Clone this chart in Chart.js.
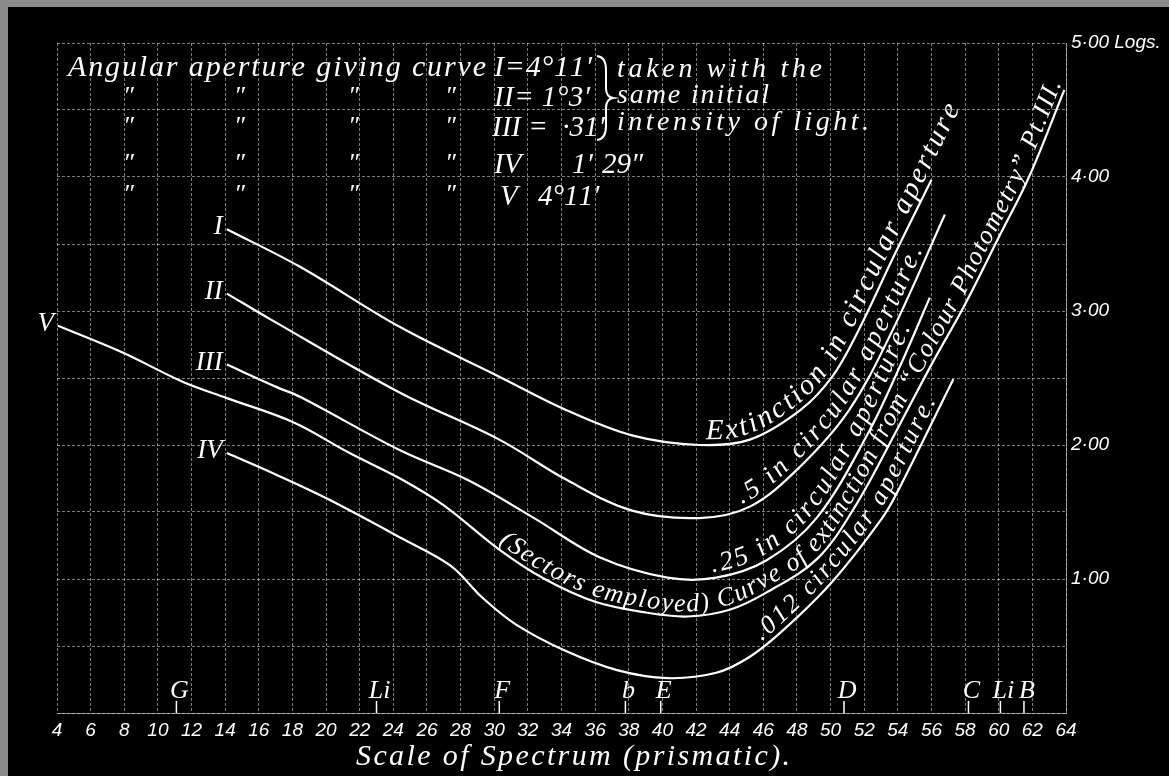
<!DOCTYPE html>
<html>
<head>
<meta charset="utf-8">
<script src="https://cdn.jsdelivr.net/npm/chart.js@4.4.1/dist/chart.umd.min.js"></script>
<style>
  html, body { margin: 0; padding: 0; background: #000; }
  canvas { display: block; }
</style>
</head>
<body>
<canvas id="chart" width="1169" height="776"></canvas>
<script>
// 1. DATOS (leídos de la lámina)
// eje X: escala del espectro (prismática), eje Y: logaritmos
const spectrumTicks = [4, 6, 8, 10, 12, 14, 16, 18, 20, 22, 24, 26, 28, 30, 32, 34,
  36, 38, 40, 42, 44, 46, 48, 50, 52, 54, 56, 58, 60, 62, 64];
const logTicks = [0, 0.5, 1, 1.5, 2, 2.5, 3, 3.5, 4, 4.5, 5];

// curva I
const curveIx = [14.1, 18.45, 24.4, 30.3, 34.3, 38.25, 42.2, 45.2, 48.2, 50.1, 51.6, 53.8, 56.0];
const curveIy = [3.61, 3.33, 2.88, 2.51, 2.26, 2.07, 2.00, 2.04, 2.26, 2.51, 2.84, 3.42, 3.98];
// curva II
const curveIIx = [14.1, 16.8, 24.4, 30.3, 34.3, 38.2, 42.2, 45.2, 48.2, 51.1, 53.7, 56.8];
const curveIIy = [3.13, 2.93, 2.39, 2.04, 1.74, 1.51, 1.455, 1.54, 1.84, 2.26, 2.86, 3.72];
// curva III
const curveIIIx = [14.1, 17.1, 18.45, 24.4, 28.4, 32.3, 36.3, 40.3, 43.2, 46.2, 49.2, 52.2, 54.1, 55.9];
const curveIIIy = [2.60, 2.43, 2.36, 1.96, 1.74, 1.46, 1.16, 1.01, 1.01, 1.14, 1.46, 2.08, 2.58, 3.10];
// curva IV
const curveIVx = [14.1, 17, 20.05, 24.4, 27.4, 29.3, 31.3, 34.3, 37.3, 40.3, 43.2, 45.2, 47.2, 50.1, 53.1, 54.1, 57.3];
const curveIVy = [1.94, 1.78, 1.60, 1.31, 1.10, 0.86, 0.66, 0.46, 0.32, 0.26, 0.30, 0.42, 0.62, 0.98, 1.46, 1.68, 2.49];
// curva V
const curveVx = [4.06, 7.9, 11.5, 14.1, 18.05, 21.4, 24.4, 27, 30.3, 33, 36, 39, 41.5, 44, 46.2,
  49.2, 51.5, 54.1, 56, 58, 60, 61.8, 63.9];
const curveVy = [2.89, 2.69, 2.47, 2.35, 2.17, 1.94, 1.75, 1.55, 1.22, 1.00, 0.83, 0.75, 0.72, 0.77, 0.90,
  1.15, 1.55, 2.15, 2.60, 3.05, 3.55, 4.00, 4.65];

// rayas del espectro marcadas abajo
const lineNames = ["G", "Li", "F", "b", "E", "D", "C", "Li", "B"];
const linePositions = [11.1, 23.0, 30.3, 37.8, 39.9, 50.8, 58.2, 60.1, 61.5];

// 2. AUXILIARES
const SERIF = "'Liberation Serif', 'DejaVu Serif', serif";
const NUMFONT = "'Liberation Sans', 'DejaVu Sans', sans-serif";
const GRID = "rgba(225,225,225,0.55)";

function pts(xs, ys) {
  return xs.map((x, i) => ({ x, y: ys[i] }));
}

function logLabel(v) {
  if (v <= 0 || !Number.isInteger(v)) return "";
  const s = v.toFixed(2).replace(".", "·");
  return v === 5 ? s + " Logs." : s;
}

// texto con espaciado para ocupar un ancho dado
function spaced(ctx, text, x, y, width) {
  const chars = [...text];
  const w = chars.reduce((a, c) => a + ctx.measureText(c).width, 0);
  const sp = chars.length > 1 && width ? Math.max(0, (width - w) / (chars.length - 1)) : 0;
  let cx = x;
  chars.forEach(c => {
    ctx.fillText(c, cx, y);
    cx += ctx.measureText(c).width + sp;
  });
}

// camino (en pixeles) de una curva, siguiendo las bezier de Chart.js
function curvePath(chart, di) {
  const el = chart.getDatasetMeta(di).data;
  const out = [];
  for (let i = 0; i < el.length - 1; i++) {
    const a = el[i], b = el[i + 1];
    const c1x = a.cp2x ?? a.x, c1y = a.cp2y ?? a.y;
    const c2x = b.cp1x ?? b.x, c2y = b.cp1y ?? b.y;
    for (let k = 0; k < 16; k++) {
      const t = k / 16, u = 1 - t;
      out.push({
        x: u*u*u*a.x + 3*u*u*t*c1x + 3*u*t*t*c2x + t*t*t*b.x,
        y: u*u*u*a.y + 3*u*u*t*c1y + 3*u*t*t*c2y + t*t*t*b.y
      });
    }
  }
  const last = el[el.length - 1];
  out.push({ x: last.x, y: last.y });
  return out;
}

function textOnCurve(chart, ctx, lbl) {
  const path = curvePath(chart, lbl.curve);
  const startPx = chart.scales.x.getPixelForValue(lbl.fromX);
  // desplazamiento perpendicular (hacia arriba/izquierda)
  const off = [];
  for (let i = 0; i < path.length; i++) {
    const p0 = path[Math.max(0, i - 1)], p1 = path[Math.min(path.length - 1, i + 1)];
    let dx = p1.x - p0.x, dy = p1.y - p0.y;
    const len = Math.hypot(dx, dy) || 1;
    dx /= len; dy /= len;
    off.push({ x: path[i].x + dy * lbl.offset, y: path[i].y - dx * lbl.offset, ox: path[i].x });
  }
  const cum = [0];
  for (let i = 1; i < off.length; i++) {
    cum.push(cum[i - 1] + Math.hypot(off[i].x - off[i - 1].x, off[i].y - off[i - 1].y));
  }
  let i0 = off.findIndex(p => p.ox >= startPx);
  if (i0 < 0) i0 = 0;
  const total = cum[cum.length - 1];
  const n = off.length;
  const lastDx = off[n - 1].x - off[n - 2].x, lastDy = off[n - 1].y - off[n - 2].y;
  const lastLen = Math.hypot(lastDx, lastDy) || 1;

  function at(s) {
    if (s >= total) {
      const e = s - total;
      return { x: off[n - 1].x + lastDx / lastLen * e, y: off[n - 1].y + lastDy / lastLen * e,
        a: Math.atan2(lastDy, lastDx) };
    }
    let j = 1;
    while (j < n - 1 && cum[j] < s) j++;
    const seg = cum[j] - cum[j - 1] || 1;
    const t = (s - cum[j - 1]) / seg;
    return {
      x: off[j - 1].x + (off[j].x - off[j - 1].x) * t,
      y: off[j - 1].y + (off[j].y - off[j - 1].y) * t,
      a: Math.atan2(off[j].y - off[j - 1].y, off[j].x - off[j - 1].x)
    };
  }

  ctx.font = "italic " + lbl.size + "px " + SERIF;
  ctx.textAlign = "center";
  ctx.textBaseline = "alphabetic";
  const chars = [...lbl.text];
  const widths = chars.map(c => ctx.measureText(c).width);
  const W = widths.reduce((a, b) => a + b, 0);
  const sp = Math.max(0, (lbl.length - W) / (chars.length - 1));
  let s = cum[i0];
  chars.forEach((c, k) => {
    const p = at(s + widths[k] / 2);
    ctx.save();
    ctx.translate(p.x, p.y);
    ctx.rotate(p.a);
    ctx.fillText(c, 0, 0);
    ctx.restore();
    s += widths[k] + sp;
  });
}

const curveLabels = [
  { curve: 0, text: "Extinction in circular aperture", fromX: 42.4, length: 440, offset: 6, size: 29 },
  { curve: 1, text: ".5 in circular aperture.", fromX: 44.8, length: 318, offset: 6, size: 27 },
  { curve: 2, text: ".25 in circular aperture.", fromX: 43.0, length: 330, offset: 6, size: 27 },
  { curve: 4, text: "(Sectors employed) Curve of extinction from \u201CColour Photometry\u201D Pt.III.", fromX: 30.0, length: 880, offset: 5, size: 26 },
  { curve: 3, text: ".012 circular aperture.", fromX: 46.0, length: 300, offset: 6, size: 26 }
];

// 3. PLUGIN: fondo y rotulación de la lámina
const plate = {
  id: "plate",
  beforeDraw(chart) {
    const ctx = chart.ctx;
    ctx.save();
    ctx.fillStyle = "#000";
    ctx.fillRect(0, 0, chart.width, chart.height);
    ctx.fillStyle = "#8a8a8a";
    ctx.fillRect(0, 0, chart.width, 7);
    ctx.fillRect(0, 0, 8, chart.height);
    ctx.restore();
  },
  afterDatasetsDraw(chart) {
    const ctx = chart.ctx;
    const xs = chart.scales.x, ys = chart.scales.y;
    ctx.save();
    ctx.fillStyle = "#fff";
    ctx.strokeStyle = "#fff";

    // leyenda superior
    ctx.font = "italic 30px " + SERIF;
    ctx.textAlign = "left";
    ctx.textBaseline = "alphabetic";
    spaced(ctx, "Angular aperture giving curve", 68, 76, 418);
    spaced(ctx, "I=4°11′", 494, 76, 98);
    ctx.font = "italic 26px " + SERIF;
    [106, 136, 173, 204].forEach(y => {
      [129, 240, 354, 451].forEach(x => ctx.fillText("″", x - 6, y - 2));
    });
    ctx.font = "italic 29px " + SERIF;
    spaced(ctx, "II= 1°3′", 494, 106, 96);
    spaced(ctx, "III =  ·31′", 492, 136, 98);
    ctx.fillText("IV", 494, 173);
    ctx.fillText("1′", 572, 173);
    ctx.fillText("29″", 602, 173);
    ctx.fillText("V", 500, 205);
    spaced(ctx, "4°11′", 538, 205, 56);

    // llave
    ctx.lineWidth = 2;
    ctx.beginPath();
    ctx.moveTo(597, 56);
    ctx.quadraticCurveTo(606, 57, 606, 70);
    ctx.lineTo(606, 88);
    ctx.quadraticCurveTo(606, 97, 613, 98);
    ctx.quadraticCurveTo(606, 99, 606, 108);
    ctx.lineTo(606, 126);
    ctx.quadraticCurveTo(606, 139, 597, 140);
    ctx.stroke();

    ctx.font = "italic 28px " + SERIF;
    spaced(ctx, "taken with the", 617, 77, 205);
    spaced(ctx, "same initial", 617, 103, 152);
    spaced(ctx, "intensity of light.", 617, 130, 252);

    // números romanos al inicio de las curvas
    ctx.font = "italic 27px " + SERIF;
    ctx.textAlign = "right";
    [["I", 0], ["II", 1], ["III", 2], ["IV", 3], ["V", 4]].forEach(([t, di]) => {
      const p = chart.getDatasetMeta(di).data[0];
      ctx.fillText(t, p.x - 4, p.y + 5);
    });

    // rayas del espectro
    ctx.lineWidth = 1.5;
    ctx.textAlign = "center";
    ctx.font = "italic 26px " + SERIF;
    linePositions.forEach((v, i) => {
      const x = xs.getPixelForValue(v);
      ctx.beginPath();
      ctx.moveTo(x, ys.bottom - 12);
      ctx.lineTo(x, ys.bottom);
      ctx.stroke();
      ctx.fillText(lineNames[i], x + 3, ys.bottom - 15);
    });

    // título del eje
    ctx.textAlign = "left";
    ctx.font = "italic 30px " + SERIF;
    spaced(ctx, "Scale of Spectrum (prismatic).", 356, 765, 434);

    // rótulos a lo largo de las curvas
    curveLabels.forEach(l => textOnCurve(chart, ctx, l));
    ctx.restore();
  }
};

// 4. GRÁFICA
const curves = [
  pts(curveIx, curveIy),
  pts(curveIIx, curveIIy),
  pts(curveIIIx, curveIIIy),
  pts(curveIVx, curveIVy),
  pts(curveVx, curveVy)
];

new Chart(document.getElementById("chart").getContext("2d"), {
  type: "line",
  data: {
    datasets: curves.map(d => ({
      data: d,
      borderColor: "#fff",
      borderWidth: 2.2,
      pointRadius: 0,
      fill: false,
      tension: 0.35
    }))
  },
  options: {
    responsive: false,
    animation: false,
    devicePixelRatio: 1,
    layout: { padding: { left: 57, top: 43, right: 0, bottom: 0 } },
    plugins: { legend: { display: false }, tooltip: { enabled: false } },
    scales: {
      x: {
        type: "linear",
        min: 4,
        max: 64,
        afterBuildTicks: s => { s.ticks = spectrumTicks.map(v => ({ value: v })); },
        afterFit: s => { s.height = 63; },
        grid: { color: GRID, lineWidth: 1, drawTicks: false },
        border: { display: true, color: GRID, width: 1, dash: [3, 2] },
        ticks: {
          color: "#fff",
          padding: 6,
          autoSkip: false,
          maxRotation: 0,
          font: { family: NUMFONT, style: "italic", size: 19 }
        }
      },
      y: {
        position: "right",
        min: 0,
        max: 5,
        afterBuildTicks: s => { s.ticks = logTicks.map(v => ({ value: v })); },
        afterFit: s => { s.width = 103; },
        grid: { color: GRID, lineWidth: 1, drawTicks: false },
        border: { display: true, color: GRID, width: 1, dash: [3, 2] },
        ticks: {
          color: "#fff",
          padding: 5,
          autoSkip: false,
          callback: v => logLabel(v),
          font: { family: NUMFONT, style: "italic", size: 19 }
        }
      }
    }
  },
  plugins: [plate]
});
</script>
</body>
</html>
